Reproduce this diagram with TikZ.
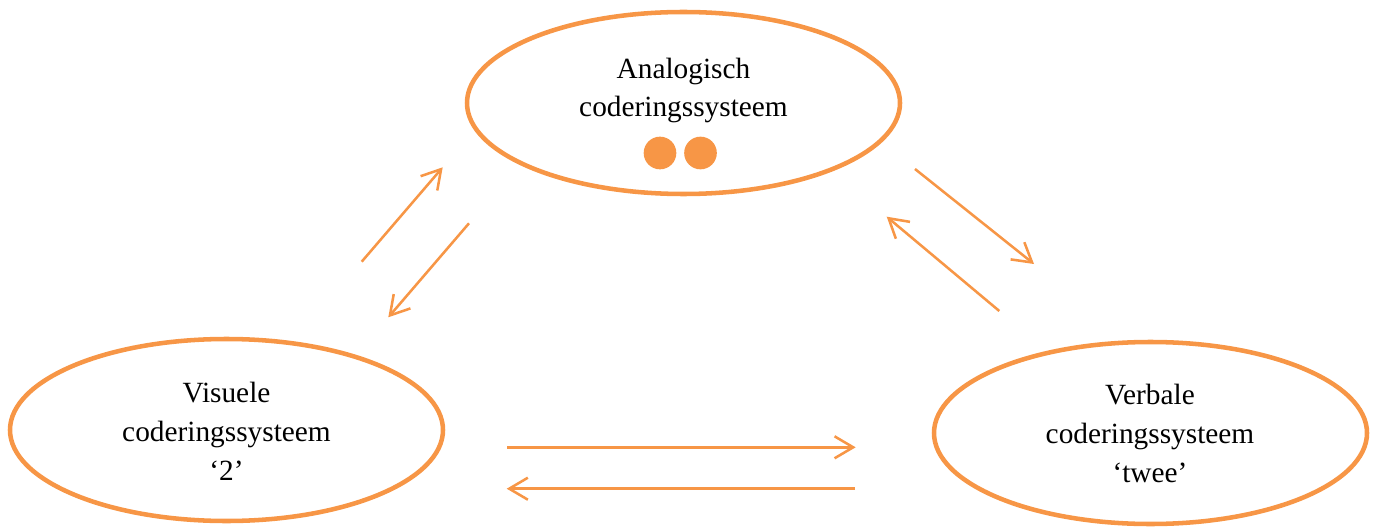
\documentclass[tikz,border=0pt]{standalone}
\usepackage{fontspec}
\setmainfont{Liberation Serif}
\usetikzlibrary{shapes.geometric,arrows.meta}
\definecolor{accent}{HTML}{F79646}
\tikzset{
  system/.style={ellipse, draw=accent, line width=3.4pt, inner sep=0pt,
    minimum width=324.75pt, minimum height=136.5pt},
  % captions are placed by the baseline of their last line
  caption/.style={anchor=base, align=center, inner sep=0pt,
    font=\fontsize{22}{29.2}\selectfont},
  marker/.style={circle, fill=accent, inner sep=0pt, minimum size=24.5pt},
  flow/.style={draw=accent, line width=1.9pt,
    -{Straight Barb[length=14pt,width=16.5pt]}}
}
\begin{document}
\begin{tikzpicture}[x=0.75pt,y=-0.75pt]
\useasboundingbox (0,0) rectangle (1373,531);

% the three coding systems
\node[system] (ana) at (683.5,103) {};
\node[system] (vis) at (226.5,430) {};
\node[system] (ver) at (1150.5,433) {};

\node[caption] (anaT) at (683.5,117) {Analogisch\\coderingssysteem};
\node[marker] (dotA) at (660,153) {};
\node[marker] (dotB) at (700.5,153) {};
\node[caption] (visT) at (226.5,480) {Visuele\\coderingssysteem\\‘2’};
\node[caption] (verT) at (1150,482) {Verbale\\coderingssysteem\\‘twee’};

% end points of the exchange arrows
\coordinate (va1) at (361.7,261.7);  \coordinate (va2) at (442.7,167.3);
\coordinate (av1) at (469,223.3);    \coordinate (av2) at (388.3,317.3);
\coordinate (ar1) at (915,169);      \coordinate (ar2) at (1034,264);
\coordinate (ra1) at (999.3,311);    \coordinate (ra2) at (886.7,216.7);
\coordinate (vr1) at (507.3,447.3);  \coordinate (vr2) at (855.7,447.3);
\coordinate (rv1) at (855,488.7);    \coordinate (rv2) at (506.7,488.7);

\draw[flow] (va1) -- (va2);
\draw[flow] (av1) -- (av2);
\draw[flow] (ar1) -- (ar2);
\draw[flow] (ra1) -- (ra2);
\draw[flow] (vr1) -- (vr2);
\draw[flow] (rv1) -- (rv2);
\end{tikzpicture}
\end{document}
